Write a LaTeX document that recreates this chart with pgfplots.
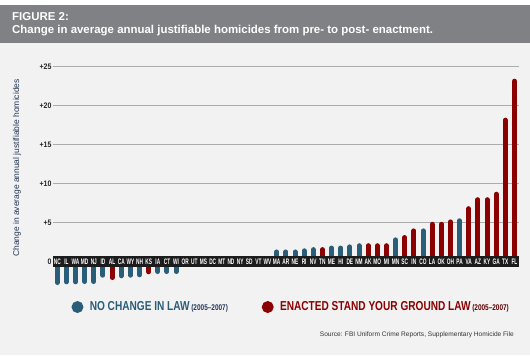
\documentclass[border=0pt]{standalone}
\usepackage{fontspec}
\setmainfont{Liberation Sans}
\newfontfamily\fA[FakeStretch=0.6]{Liberation Sans}
\newfontfamily\fB[FakeStretch=0.78]{Liberation Sans}
\newfontfamily\fC[FakeStretch=0.88]{Liberation Sans}
\usepackage{pgfplots}
\usepackage{pgfplotstable}
\pgfplotsset{compat=1.18}
\definecolor{bgc}{RGB}{242,242,242}
\definecolor{hdr}{RGB}{127,129,132}
\definecolor{blu}{RGB}{41,93,120}
\definecolor{rd}{RGB}{139,0,0}
\definecolor{grd}{RGB}{172,172,172}
\definecolor{band}{RGB}{28,28,28}
\definecolor{ylab}{RGB}{35,55,85}

\pgfplotstableread{
i v
0 -2.72
1 -2.63
2 -2.63
3 -2.59
4 -2.59
5 -1.78
7 -1.86
8 -1.78
9 -1.73
11 -1.31
12 -1.31
13 -1.31
24 1.2
25 1.2
26 1.2
27 1.35
28 1.5
30 1.7
31 1.7
32 1.85
33 2.0
37 2.75
40 3.9
44 5.2
}\bluedata

\pgfplotstableread{
i v
6 -2.08
10 -1.35
29 1.5
34 2.0
35 2.0
36 2.0
38 3.05
39 3.9
41 4.75
42 4.75
43 5.05
45 6.75
46 7.9
47 7.9
48 8.6
49 18.1
50 23.1
}\reddata

\pgfplotstableread{
i z s
0 0 NC
1 0 IL
2 0 WA
3 0 MD
4 0 NJ
5 0 ID
6 0 AL
7 0 CA
8 0 WY
9 0 NH
10 0 KS
11 0 IA
12 0 CT
13 0 WI
14 0 OR
15 0 UT
16 0 MS
17 0 DC
18 0 MT
19 0 ND
20 0 NY
21 0 SD
22 0 VT
23 0 WV
24 0 MA
25 0 AR
26 0 NE
27 0 RI
28 0 NV
29 0 TN
30 0 ME
31 0 HI
32 0 DE
33 0 NM
34 0 AK
35 0 MO
36 0 MI
37 0 MN
38 0 SC
39 0 IN
40 0 CO
41 0 LA
42 0 OK
43 0 OH
44 0 PA
45 0 VA
46 0 AZ
47 0 KY
48 0 GA
49 0 TX
50 0 FL
}\labels

\begin{document}
\begin{tikzpicture}[x=1bp,y=1bp]
\fill[bgc] (0,0) rectangle (530,355);
\fill[white] (0,350) rectangle (530,355);
\fill[hdr] (0,312) rectangle (530,350);
\node[anchor=base west, inner sep=0pt, text=white, font=\bfseries\fontsize{11.5}{13}\selectfont] at (12,335) {FIGURE 2:};
\node[anchor=base west, inner sep=0pt, text=white, font=\bfseries\fontsize{11.5}{13}\selectfont] at (12,322) {Change in average annual justifiable homicides from pre- to post- enactment.};
\node[rotate=90, anchor=center, inner sep=0pt, text=ylab, font=\fontsize{8.5}{9}\selectfont] at (17,187) {Change in average annual justifiable homicides};
\node[anchor=base east, inner sep=0pt, text=black!80, font=\fontsize{6.6}{7}\selectfont] at (514,19) {Source: FBI Uniform Crime Reports, Supplementary Homicide File};
\begin{axis}[
  at={(52.7bp,66.4bp)}, anchor=south west,
  scale only axis, width=466.3bp, height=224.6bp,
  xmin=-0.5, xmax=50.5, ymin=-3.5, ymax=25.3,
  axis line style={draw=none},
  xtick=\empty,
  ytick={0,5,10,15,20,25},
  yticklabels={0,+5,+10,+15,+20,+25},
  yticklabel style={font=\fC\bfseries\fontsize{8}{8}\selectfont, text=black!85, inner sep=1bp},
  major tick length=0pt,
  ymajorgrids, grid style={grd, line width=0.8bp},
  clip=false,
  legend columns=2,
  legend cell align=left,
  legend style={at={(0.0403,-0.082)}, anchor=west, draw=none, fill=none, inner sep=0pt,
    nodes={inner sep=0pt},
    /tikz/every odd column/.append style={column sep=6.5bp},
    /tikz/every even column/.append style={column sep=34bp}},
]
\addplot[ycomb, draw=blu, line width=5bp, line cap=round, mark=none,
  legend image code/.code={\fill[blu] (0bp,0bp) circle (3.3bp);}] table[x=i,y=v]{\bluedata};
\addlegendentry{{\fB\bfseries\fontsize{13}{14}\selectfont\textcolor{blu}{NO CHANGE IN LAW}}\,{\fB\bfseries\fontsize{8.3}{9}\selectfont\textcolor{ylab}{(2005–2007)}}}
\addplot[ycomb, draw=rd, line width=5bp, line cap=round, mark=none,
  legend image code/.code={\fill[rd] (0bp,0bp) circle (3.3bp);}] table[x=i,y=v]{\reddata};
\addlegendentry{{\fB\bfseries\fontsize{13}{14}\selectfont\textcolor{rd}{ENACTED STAND YOUR GROUND LAW}}\,{\fB\bfseries\fontsize{8.3}{9}\selectfont\textcolor{rd!70!black}{(2005–2007)}}}
\fill[band] (axis cs:-0.5,-0.7) rectangle (axis cs:50.5,0.7);
\addplot[draw=none, mark=none, nodes near coords, point meta=explicit symbolic,
  nodes near coords style={anchor=center, text=white, inner sep=0pt, font=\fA\bfseries\fontsize{8}{8}\selectfont}]
  table[x=i,y=z,meta=s]{\labels};
\end{axis}
\pgfresetboundingbox
\useasboundingbox (0,0) rectangle (530,355);
\end{tikzpicture}
\end{document}
